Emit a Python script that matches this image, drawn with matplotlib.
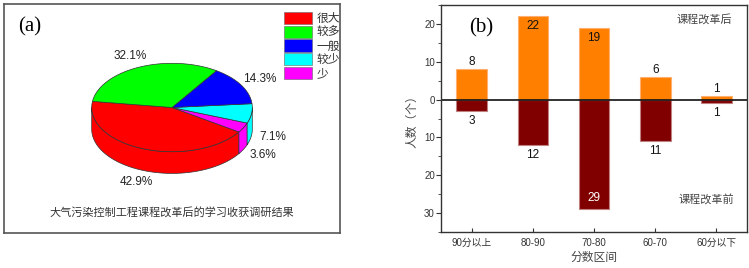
import numpy as np
import matplotlib
matplotlib.use('Agg')
import matplotlib.pyplot as plt
from matplotlib.patches import Polygon, Patch
from matplotlib.ticker import FuncFormatter, MultipleLocator

plt.rcParams['font.family'] = ['Liberation Sans', 'Noto Sans CJK SC']

# (a) 饼图数据
pie_labels = ['很大', '较多', '一般', '较少', '少']
pie_values = [42.9, 32.1, 14.3, 7.1, 3.6]
pie_colors = ['#FF0000', '#00FF00', '#0000FF', '#00FFFF', '#FF00FF']
pie_order = [0, 4, 3, 2, 1]  # 逆时针绘制顺序
caption = '大气污染控制工程课程改革后的学习收获调研结果'

# (b) 柱状图数据
groups = ['90分以上', '80-90', '70-80', '60-70', '60分以下']
after = [8, 22, 19, 6, 1]
before = [3, 12, 29, 11, 1]

fig = plt.figure(figsize=(7.49, 2.68), dpi=100)

# ---------- (a) ----------
ax1 = fig.add_axes([4 / 749, 35 / 268, 336 / 749, 229 / 268])
ax1.set_xlim(4, 340)
ax1.set_ylim(233, 4)
ax1.set_xticks([])
ax1.set_yticks([])
for sp in ax1.spines.values():
    sp.set_color('#555555')
    sp.set_linewidth(1.2)

cx, cy, a, b, depth = 172, 107.5, 80.3, 44.2, 21.7
start = 172.0


def pt(t, dy=0):
    r = np.radians(t)
    return cx + a * np.cos(r), cy - b * np.sin(r) + dy


ang = start
slices = []
for i in pie_order:
    span = pie_values[i] / sum(pie_values) * 360
    slices.append((i, ang, ang + span))
    ang += span

# 侧面（只画前半圈）
for i, t0, t1 in slices:
    for k in range(-1, 2):
        lo, hi = max(t0, 180 + 360 * k), min(t1, 360 + 360 * k)
        if hi <= lo:
            continue
        ts = np.linspace(lo, hi, 60)
        top = [pt(t) for t in ts]
        bot = [pt(t, depth) for t in ts[::-1]]
        ax1.add_patch(Polygon(top + bot, closed=True, facecolor=pie_colors[i],
                              edgecolor='#333333', linewidth=0.5))

# 顶面
for i, t0, t1 in slices:
    ts = np.linspace(t0, t1, 80)
    verts = [(cx, cy)] + [pt(t) for t in ts]
    ax1.add_patch(Polygon(verts, closed=True, facecolor=pie_colors[i],
                          edgecolor='#333333', linewidth=0.5))

# 百分比标签
for i, t0, t1 in slices:
    tm = (t0 + t1) / 2
    r = np.radians(tm)
    x = cx + 1.27 * a * np.cos(r)
    y = cy - 1.27 * b * np.sin(r)
    if np.sin(r) < 0:
        y += depth
    ax1.text(x, y, f'{pie_values[i]:.1f}%', ha='center', va='center',
             fontsize=8.5, color='#222222')

handles = [Patch(facecolor=c, edgecolor='#666666', linewidth=0.4) for c in pie_colors]
ax1.legend(handles, pie_labels, loc='upper left', bbox_to_anchor=(284, 12),
           bbox_transform=ax1.transData, frameon=False, borderpad=0,
           borderaxespad=0, handlelength=2.4, handleheight=1.2,
           labelspacing=0.06, handletextpad=0.35, fontsize=8.5,
           labelcolor='#333333')

ax1.text(30, 27, '(a)', family='Liberation Serif', fontsize=15,
         ha='center', va='center')
ax1.text(172, 212, caption, ha='center', va='center', fontsize=8,
         color='#333333')

# ---------- (b) ----------
ax2 = fig.add_axes([441 / 749, 36 / 268, 306 / 749, 227 / 268])
x = np.arange(len(groups))
ax2.bar(x, after, width=0.5, color='#FF8000', edgecolor='#FFB070', linewidth=0.8)
ax2.bar(x, [-v for v in before], width=0.5, color='#800000',
        edgecolor='#C08080', linewidth=0.8)
ax2.axhline(0, color='#111111', linewidth=1.2)
ax2.set_xlim(-0.5, 4.5)
ax2.set_ylim(-35, 25)

for xi, v in zip(x, after):
    yy = v + 1.9 if v < 18 else v - 2.6
    ax2.text(xi, yy, str(v), ha='center', va='center', fontsize=8.5, color='#111111')
for xi, v in zip(x, before):
    if v > 25:
        ax2.text(xi, -v + 2.9, str(v), ha='center', va='center', fontsize=8.5,
                 color='white')
    else:
        ax2.text(xi, -v - 2.6, str(v), ha='center', va='center', fontsize=8.5,
                 color='#111111')

ax2.set_xticks(x)
ax2.set_xticklabels(groups)
ax2.set_yticks([-30, -20, -10, 0, 10, 20])
ax2.yaxis.set_minor_locator(MultipleLocator(5))
ax2.yaxis.set_major_formatter(FuncFormatter(lambda v, p: f'{abs(int(v))}'))
ax2.tick_params(axis='x', direction='in', length=3, labelsize=7,
                colors='#333333', pad=4)
ax2.tick_params(axis='y', which='major', direction='out', length=3.4,
                labelsize=7, colors='#333333', pad=1)
ax2.tick_params(axis='y', which='minor', direction='out', length=2, colors='#333333')
for sp in ax2.spines.values():
    sp.set_color('#333333')
    sp.set_linewidth(1.0)

ax2.set_ylabel('人数（个）', fontsize=8.5, color='#444444', labelpad=4)
ax2.set_xlabel('分数区间', fontsize=8.5, color='#444444', labelpad=3)

ax2.text(0.13, 0.9, '(b)', transform=ax2.transAxes, family='Liberation Serif',
         fontsize=15, ha='center', va='center')
ax2.text(3.8, 21.2, '课程改革后', ha='center', va='center', fontsize=8, color='#444444')
ax2.text(3.83, -26.2, '课程改革前', ha='center', va='center', fontsize=8, color='#444444')

fig.savefig('out.png', dpi=100)
